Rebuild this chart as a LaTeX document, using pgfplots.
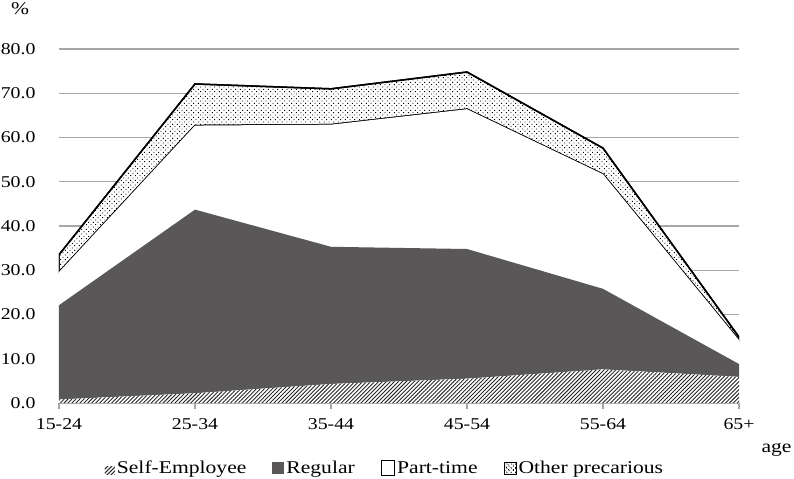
\documentclass[border=0pt]{standalone}
\usepackage{fontspec}
\setmainfont[FakeStretch=1.2]{Liberation Serif}
\usepackage{pgfplots}
\pgfplotsset{compat=1.18}
\usetikzlibrary{patterns.meta}
\definecolor{regular}{RGB}{89,87,87}
\definecolor{gridgray}{RGB}{166,166,166}
\newcommand{\lf}{\fontsize{18bp}{20bp}\selectfont}

\begin{document}
\begin{tikzpicture}
\useasboundingbox (-59bp,-76bp) rectangle (735bp,403bp);
\begin{axis}[
  at={(0,0)}, anchor=south west,
  scale only axis, width=680bp, height=354bp,
  tick label style={font=\fontsize{16.5bp}{19bp}\selectfont},
  /pgf/number format/assume math mode=true,
  stack plots=y,
  xmin=0, xmax=5, ymin=0, ymax=80,
  xtick={0,...,5},
  xticklabels={15-24,25-34,35-44,45-54,55-64,65+},
  ytick={0,10,...,80},
  yticklabel style={/pgf/number format/fixed, /pgf/number format/fixed zerofill,
    /pgf/number format/precision=1, xshift=-14bp},
  xticklabel style={yshift=-6bp},
  ymajorgrids, grid style={gridgray, line width=1.2bp},
  separate axis lines,
  axis x line*=bottom, axis y line*=left,
  x axis line style={gridgray, line width=1.2bp, -},
  y axis line style={draw=none},
  xtick style={gridgray, line width=1.2bp},
  tick align=outside, major tick length=6bp,
  ytick style={draw=none},
  xlabel={\lf age}, ylabel={\lf\%},
  every axis x label/.style={at={(axis description cs:1,0)}, anchor=west, xshift=19bp, yshift=-47bp},
  every axis y label/.style={at={(axis description cs:0,1)}, anchor=center, xshift=-39bp, yshift=40bp},
  legend style={at={(0.5,0)}, anchor=north, xshift=-14bp, yshift=-56bp,
    draw=none, inner sep=0pt, legend columns=-1,
    /tikz/every even column/.append style={column sep=24bp}},
]
% self-employee
\addplot[draw=none, fill=white,
  postaction={pattern={Lines[angle=45,distance=2.8bp,line width=0.9bp]}, pattern color=black!85},
  legend image code/.code={
    \path[pattern={Lines[angle=45,distance=2.8bp,line width=0.8bp]}, pattern color=black!70] (-2bp,-6bp) rectangle (8bp,2bp);}]
coordinates {(0,0.8) (1,2.2) (2,4.3) (3,5.5) (4,7.6) (5,5.9)} \closedcycle;
\addlegendentry{\lf Self-Employee}
% regular
\addplot[draw=none, fill=regular,
  legend image code/.code={\fill[regular] (-2bp,-6bp) rectangle (10bp,6bp);}]
coordinates {(0,21.3) (1,41.5) (2,31.0) (3,29.3) (4,18.2) (5,2.9)} \closedcycle;
\addlegendentry{\lf Regular}
% part-time
\addplot[draw=none, fill=white,
  legend image code/.code={\draw[black, line width=1.4bp, fill=white] (-3bp,-7bp) rectangle (10bp,8bp);}]
coordinates {(0,7.5) (1,19.0) (2,27.6) (3,31.6) (4,25.9) (5,5.4)} \closedcycle;
\addlegendentry{\lf Part-time}
% other precarious
\addplot[draw=black, line width=1.5bp, fill=white,
  postaction={pattern={Dots[distance=3.3bp,angle=45,radius=0.65bp]}, pattern color=black},
  legend image code/.code={
    \draw[black, line width=1bp, fill=white, postaction={pattern={Dots[distance=3bp,angle=45,radius=0.6bp]}}] (-2bp,-6bp) rectangle (10bp,6bp);}]
coordinates {(0,3.9) (1,9.4) (2,8.1) (3,8.4) (4,5.9) (5,0.7)} \closedcycle;
\addlegendentry{\lf Other precarious}
\end{axis}
\end{tikzpicture}
\end{document}
